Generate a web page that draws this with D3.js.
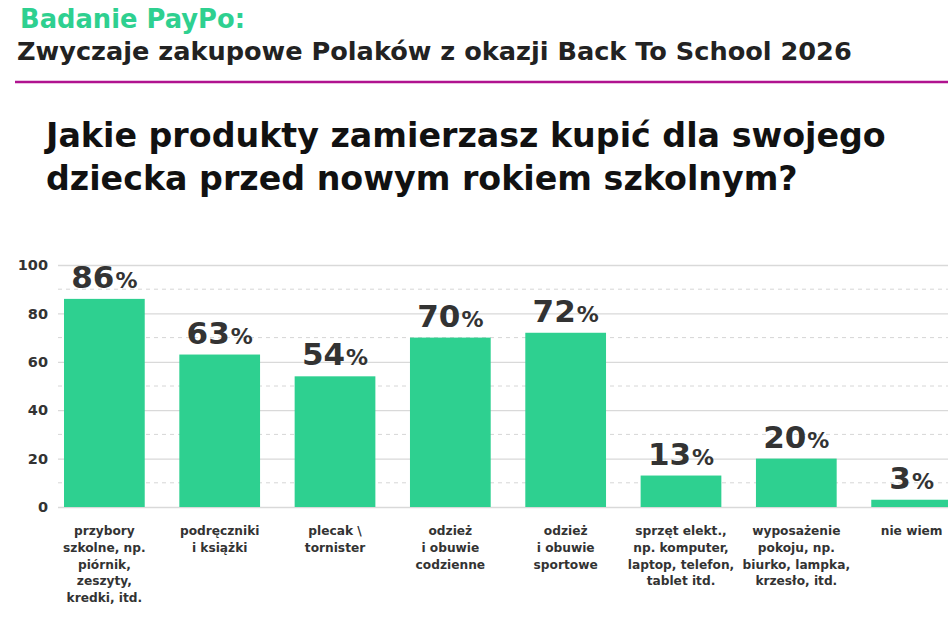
<!DOCTYPE html>
<html>
<head>
<meta charset="utf-8">
<script src="https://cdn.jsdelivr.net/npm/d3@7"></script>
<style>
  body { margin: 0; background: #fff; }
  svg { display: block; font-family: "DejaVu Sans", Lato, sans-serif; }
</style>
</head>
<body>
<script>
// Chart data
var categories = [
  "przybory\nszkolne, np.\npiórnik,\nzeszyty,\nkredki, itd.",
  "podręczniki\ni książki",
  "plecak \\\ntornister",
  "odzież\ni obuwie\ncodzienne",
  "odzież\ni obuwie\nsportowe",
  "sprzęt elekt.,\nnp. komputer,\nlaptop, telefon,\ntablet itd.",
  "wyposażenie\npokoju, np.\nbiurko, lampka,\nkrzesło, itd.",
  "nie wiem"
];
var values = [86, 63, 54, 70, 72, 13, 20, 3];
var yTicks = [0, 20, 40, 60, 80, 100];
var yMinorTicks = [10, 30, 50, 70, 90];

var header = "Badanie PayPo:";
var subtitle = "Zwyczaje zakupowe Polaków z okazji Back To School 2026";
var question = ["Jakie produkty zamierzasz kupić dla swojego", "dziecka przed nowym rokiem szkolnym?"];

var W = 948, H = 625;
var green = "#2ed090", dark = "#333333";

var svg = d3.select("body").append("svg")
    .attr("width", W)
    .attr("height", H);

// Resize a text so it fills the given width; returns the font size used.
function fitFont(sel, width) {
    var size = +sel.attr("font-size");
    var len = sel.node().getComputedTextLength();
    size = size * width / len;
    sel.attr("font-size", size);
    return size;
}

// Header
svg.append("text")
    .attr("x", 20).attr("y", 28)
    .attr("fill", green)
    .attr("font-size", 25).attr("font-weight", 700)
    .text(header)
    .call(fitFont, 225);

svg.append("text")
    .attr("x", 17).attr("y", 60)
    .attr("fill", "#222")
    .attr("font-size", 26).attr("font-weight", 700)
    .text(subtitle)
    .call(fitFont, 835);

svg.append("line")
    .attr("x1", 15).attr("x2", W)
    .attr("y1", 82).attr("y2", 82)
    .attr("stroke", "#b0138f")
    .attr("stroke-width", 2.5);

var q = svg.selectAll(".question")
    .data(question)
    .enter()
    .append("text")
    .attr("class", "question")
    .attr("x", 46)
    .attr("y", function(d, i) { return 147 + i * 43; })
    .attr("fill", "#111")
    .attr("font-size", 33).attr("font-weight", 700)
    .text(function(d) { return d; });
var qSize = fitFont(d3.select(q.nodes()[0]), 840);
d3.select(q.nodes()[1]).attr("font-size", qSize);

// Scales
var x = d3.scaleBand()
    .domain(categories)
    .range([58, 958])
    .paddingInner(0.3)
    .paddingOuter(0.052);

var y = d3.scaleLinear()
    .domain([0, 100])
    .range([507, 265]);

// Gridlines
svg.selectAll(".minor")
    .data(yMinorTicks)
    .enter()
    .append("line")
    .attr("class", "minor")
    .attr("x1", 58).attr("x2", W)
    .attr("y1", function(d) { return y(d); })
    .attr("y2", function(d) { return y(d); })
    .attr("stroke", "#d6d6d6")
    .attr("stroke-width", 1)
    .attr("stroke-dasharray", "4,4");

var yAxis = svg.append("g")
    .attr("transform", "translate(58,0)")
    .call(d3.axisLeft(y).tickValues(yTicks).tickSize(-(W - 58)).tickPadding(10));

yAxis.select(".domain").remove();
yAxis.selectAll(".tick line")
    .attr("stroke", "#d9d9d9")
    .attr("stroke-width", 1.3);
yAxis.selectAll(".tick text")
    .attr("fill", dark)
    .attr("font-size", 14.5)
    .attr("font-weight", 700)
    .attr("font-family", "DejaVu Sans, sans-serif");

// Bars
svg.selectAll(".bar")
    .data(values)
    .enter()
    .append("rect")
    .attr("class", "bar")
    .attr("x", function(d, i) { return x(categories[i]); })
    .attr("y", function(d) { return y(d); })
    .attr("width", x.bandwidth())
    .attr("height", function(d) { return y(0) - y(d); })
    .attr("fill", green);

// Value labels
var labels = svg.selectAll(".bar-label")
    .data(values)
    .enter()
    .append("text")
    .attr("class", "bar-label")
    .attr("x", function(d, i) { return x(categories[i]) + x.bandwidth() / 2; })
    .attr("y", function(d) { return y(d) - 11; })
    .attr("text-anchor", "middle")
    .attr("fill", dark)
    .attr("font-weight", 700);

labels.append("tspan")
    .attr("font-size", 31)
    .text(function(d) { return d; });
labels.append("tspan")
    .attr("font-size", 22)
    .attr("dx", 1)
    .text("%");

// Category labels
svg.selectAll(".cat")
    .data(categories)
    .enter()
    .append("text")
    .attr("class", "cat")
    .attr("text-anchor", "middle")
    .attr("fill", dark)
    .attr("font-size", 12.2)
    .attr("font-weight", 700)
    .attr("transform", function(d) {
        return "translate(" + (x(d) + x.bandwidth() / 2) + ",535)";
    })
    .selectAll("tspan")
    .data(function(d) { return d.split("\n"); })
    .enter()
    .append("tspan")
    .attr("x", 0)
    .attr("y", function(d, i) { return i * 16.8; })
    .text(function(d) { return d; });
</script>
</body>
</html>
